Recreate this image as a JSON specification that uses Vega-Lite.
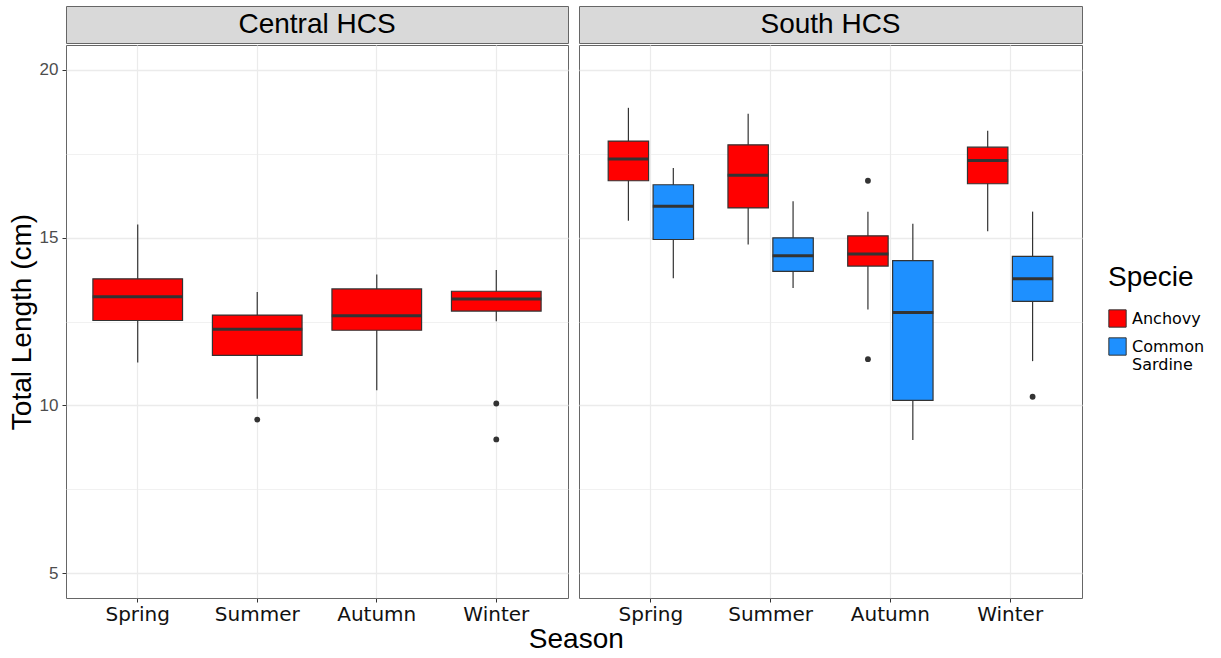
{
  "$schema": "https://vega.github.io/schema/vega-lite/v6.json",
  "background": "white",
  "padding": {"left": 7, "top": 5, "right": 0, "bottom": 0},
  "datasets": {
    "boxes": [
      {"region": "Central HCS", "season": "Spring", "species": "Anchovy", "lower": 11.28, "q1": 12.53, "median": 13.24, "q3": 13.77, "upper": 15.39},
      {"region": "Central HCS", "season": "Summer", "species": "Anchovy", "lower": 10.2, "q1": 11.49, "median": 12.27, "q3": 12.69, "upper": 13.38},
      {"region": "Central HCS", "season": "Autumn", "species": "Anchovy", "lower": 10.45, "q1": 12.24, "median": 12.67, "q3": 13.47, "upper": 13.9},
      {"region": "Central HCS", "season": "Winter", "species": "Anchovy", "lower": 12.51, "q1": 12.81, "median": 13.17, "q3": 13.4, "upper": 14.03},
      {"region": "South HCS", "season": "Spring", "species": "Anchovy", "lower": 15.5, "q1": 16.69, "median": 17.34, "q3": 17.87, "upper": 18.86},
      {"region": "South HCS", "season": "Spring", "species": "Common Sardine", "lower": 13.79, "q1": 14.94, "median": 15.93, "q3": 16.57, "upper": 17.07},
      {"region": "South HCS", "season": "Summer", "species": "Anchovy", "lower": 14.79, "q1": 15.88, "median": 16.85, "q3": 17.76, "upper": 18.68},
      {"region": "South HCS", "season": "Summer", "species": "Common Sardine", "lower": 13.5, "q1": 13.99, "median": 14.46, "q3": 14.99, "upper": 16.08},
      {"region": "South HCS", "season": "Autumn", "species": "Anchovy", "lower": 12.86, "q1": 14.15, "median": 14.51, "q3": 15.05, "upper": 15.77},
      {"region": "South HCS", "season": "Autumn", "species": "Common Sardine", "lower": 8.97, "q1": 10.15, "median": 12.77, "q3": 14.31, "upper": 15.41},
      {"region": "South HCS", "season": "Winter", "species": "Anchovy", "lower": 15.19, "q1": 16.6, "median": 17.29, "q3": 17.69, "upper": 18.18},
      {"region": "South HCS", "season": "Winter", "species": "Common Sardine", "lower": 11.32, "q1": 13.1, "median": 13.77, "q3": 14.44, "upper": 15.77}
    ],
    "outliers": [
      {"region": "Central HCS", "season": "Summer", "species": "Anchovy", "value": 9.58},
      {"region": "Central HCS", "season": "Winter", "species": "Anchovy", "value": 10.06},
      {"region": "Central HCS", "season": "Winter", "species": "Anchovy", "value": 8.99},
      {"region": "South HCS", "season": "Autumn", "species": "Anchovy", "value": 16.69},
      {"region": "South HCS", "season": "Autumn", "species": "Anchovy", "value": 11.38},
      {"region": "South HCS", "season": "Winter", "species": "Common Sardine", "value": 10.26}
    ],
    "strips": [{"region": "Central HCS"}, {"region": "South HCS"}]
  },
  "title": {"text": "Season", "orient": "bottom", "anchor": "middle", "font": "Liberation Sans", "fontSize": 28, "fontWeight": "normal", "color": "#000", "offset": 1, "dx": -30},
  "spacing": 9,
  "hconcat": [
    {
      "spacing": 0,
      "vconcat": [
        {
          "width": 502, "height": 37,
          "data": {"name": "strips"},
          "transform": [{"filter": "datum.region == 'Central HCS'"}],
          "view": {"fill": "#d9d9d9", "stroke": "#666"},
          "mark": {"type": "text", "font": "Liberation Sans", "fontSize": 28, "color": "#000", "baseline": "middle", "align": "center"},
          "encoding": {"text": {"field": "region"}}
        },
        {
          "width": 502, "height": 553,
          "view": {"stroke": "#666"},
          "layer": [
            {
              "data": {"name": "boxes"},
              "transform": [{"filter": "datum.region == 'Central HCS'"}],
              "mark": {"type": "rule", "color": "#333", "strokeWidth": 1.2},
              "encoding": {
                "x": {"field": "season", "type": "nominal", "sort": ["Spring", "Summer", "Autumn", "Winter"], "scale": {"domain": ["Spring", "Summer", "Autumn", "Winter"], "paddingInner": 0.25, "paddingOuter": 0.225}, "axis": {"title": null, "labelFont": "DejaVu Sans", "labelFontSize": 20, "labelColor": "#111", "labelAngle": 0, "tickSize": 4, "tickColor": "#333", "labelPadding": 2, "domain": false, "grid": true, "gridColor": "#ebebeb", "gridWidth": 1.2, "bandPosition": 0.5}},
                "y": {"field": "lower", "type": "quantitative", "scale": {"domain": [4.27, 20.73], "nice": false, "zero": false}, "axis": {"title": "Total Length (cm)", "titleFont": "Liberation Sans", "titleFontSize": 28, "titleFontWeight": "normal", "titleColor": "#000", "titlePadding": 3, "values": [5, 7.5, 10, 12.5, 15, 17.5, 20], "labelExpr": "datum.value % 5 == 0 ? format(datum.value, 'd') : ''", "labelFont": "Liberation Sans", "labelFontSize": 17, "labelColor": "#4d4d4d", "labelPadding": 4, "tickSize": 4, "tickColor": "#333", "tickOpacity": {"condition": {"test": "datum.value % 5 != 0", "value": 0}, "value": 1}, "gridColor": "#ebebeb", "gridWidth": {"condition": {"test": "datum.value % 5 != 0", "value": 0.7}, "value": 1.3}, "domain": false}},
                "y2": {"field": "upper"}
              }
            },
            {
              "data": {"name": "boxes"},
              "transform": [{"filter": "datum.region == 'Central HCS'"}],
              "mark": {"type": "bar", "stroke": "#333", "strokeWidth": 1.2},
              "encoding": {
                "x": {"field": "season", "type": "nominal", "sort": ["Spring", "Summer", "Autumn", "Winter"]},
                "y": {"field": "q1", "type": "quantitative"},
                "y2": {"field": "q3"},
                "color": {"field": "species", "type": "nominal", "scale": {"domain": ["Anchovy", "Common Sardine"], "range": ["#ff0000", "#1e90ff"]}, "legend": {"title": "Specie", "labelExpr": "datum.label == 'Common Sardine' ? ['Common', 'Sardine'] : datum.label"}}
              }
            },
            {
              "data": {"name": "boxes"},
              "transform": [{"filter": "datum.region == 'Central HCS'"}],
              "mark": {"type": "tick", "color": "#333", "thickness": 3, "size": 90, "opacity": 1},
              "encoding": {
                "x": {"field": "season", "type": "nominal", "sort": ["Spring", "Summer", "Autumn", "Winter"]},
                "y": {"field": "median", "type": "quantitative"}
              }
            },
            {
              "data": {"name": "outliers"},
              "transform": [{"filter": "datum.region == 'Central HCS'"}],
              "mark": {"type": "circle", "color": "#333", "size": 34, "opacity": 1},
              "encoding": {
                "x": {"field": "season", "type": "nominal", "sort": ["Spring", "Summer", "Autumn", "Winter"]},
                "y": {"field": "value", "type": "quantitative"}
              }
            }
          ]
        }
      ]
    },
    {
      "spacing": 0,
      "vconcat": [
        {
          "width": 503, "height": 37,
          "data": {"name": "strips"},
          "transform": [{"filter": "datum.region == 'South HCS'"}],
          "view": {"fill": "#d9d9d9", "stroke": "#666"},
          "mark": {"type": "text", "font": "Liberation Sans", "fontSize": 28, "color": "#000", "baseline": "middle", "align": "center"},
          "encoding": {"text": {"field": "region"}}
        },
        {
          "width": 503, "height": 553,
          "view": {"stroke": "#666"},
          "layer": [
            {
              "data": {"name": "boxes"},
              "transform": [{"filter": "datum.region == 'South HCS'"}],
              "mark": {"type": "rule", "color": "#333", "strokeWidth": 1.2},
              "encoding": {
                "x": {"field": "season", "type": "nominal", "sort": ["Spring", "Summer", "Autumn", "Winter"], "scale": {"domain": ["Spring", "Summer", "Autumn", "Winter"], "paddingInner": 0.25, "paddingOuter": 0.225}, "axis": {"title": null, "labelFont": "DejaVu Sans", "labelFontSize": 20, "labelColor": "#111", "labelAngle": 0, "tickSize": 4, "tickColor": "#333", "labelPadding": 2, "domain": false, "grid": true, "gridColor": "#ebebeb", "gridWidth": 1.2, "bandPosition": 0.5}},
                "xOffset": {"field": "species", "type": "nominal", "scale": {"domain": ["Anchovy", "Common Sardine"], "paddingInner": 0.1, "paddingOuter": 0.05}},
                "y": {"field": "lower", "type": "quantitative", "scale": {"domain": [4.27, 20.73], "nice": false, "zero": false}, "axis": {"title": null, "values": [5, 7.5, 10, 12.5, 15, 17.5, 20], "labels": false, "ticks": false, "domain": false, "gridColor": "#ebebeb", "gridWidth": {"condition": {"test": "datum.value % 5 != 0", "value": 0.7}, "value": 1.3}}},
                "y2": {"field": "upper"}
              }
            },
            {
              "data": {"name": "boxes"},
              "transform": [{"filter": "datum.region == 'South HCS'"}],
              "mark": {"type": "bar", "stroke": "#333", "strokeWidth": 1.2},
              "encoding": {
                "x": {"field": "season", "type": "nominal", "sort": ["Spring", "Summer", "Autumn", "Winter"]},
                "xOffset": {"field": "species", "type": "nominal"},
                "y": {"field": "q1", "type": "quantitative"},
                "y2": {"field": "q3"},
                "color": {"field": "species", "type": "nominal", "scale": {"domain": ["Anchovy", "Common Sardine"], "range": ["#ff0000", "#1e90ff"]}, "legend": {"title": "Specie", "labelExpr": "datum.label == 'Common Sardine' ? ['Common', 'Sardine'] : datum.label"}}
              }
            },
            {
              "data": {"name": "boxes"},
              "transform": [{"filter": "datum.region == 'South HCS'"}],
              "mark": {"type": "tick", "color": "#333", "thickness": 3, "size": 41, "opacity": 1},
              "encoding": {
                "x": {"field": "season", "type": "nominal", "sort": ["Spring", "Summer", "Autumn", "Winter"]},
                "xOffset": {"field": "species", "type": "nominal"},
                "y": {"field": "median", "type": "quantitative"}
              }
            },
            {
              "data": {"name": "outliers"},
              "transform": [{"filter": "datum.region == 'South HCS'"}],
              "mark": {"type": "circle", "color": "#333", "size": 34, "opacity": 1},
              "encoding": {
                "x": {"field": "season", "type": "nominal", "sort": ["Spring", "Summer", "Autumn", "Winter"]},
                "xOffset": {"field": "species", "type": "nominal"},
                "y": {"field": "value", "type": "quantitative"}
              }
            }
          ]
        }
      ]
    }
  ],
  "config": {
    "view": {"stroke": "#666"},
    "legend": {
      "orient": "none", "legendX": 1042, "legendY": 258,
      "titleFont": "Liberation Sans", "titleFontSize": 28, "titleFontWeight": "normal", "titleColor": "#000", "titlePadding": 17,
      "labelFont": "DejaVu Sans", "labelFontSize": 16, "labelColor": "#000", "labelOffset": 5,
      "symbolType": "square", "symbolSize": 300, "symbolStrokeColor": "#333", "symbolStrokeWidth": 1, "symbolOpacity": 1, "rowPadding": 5
    }
  }
}
